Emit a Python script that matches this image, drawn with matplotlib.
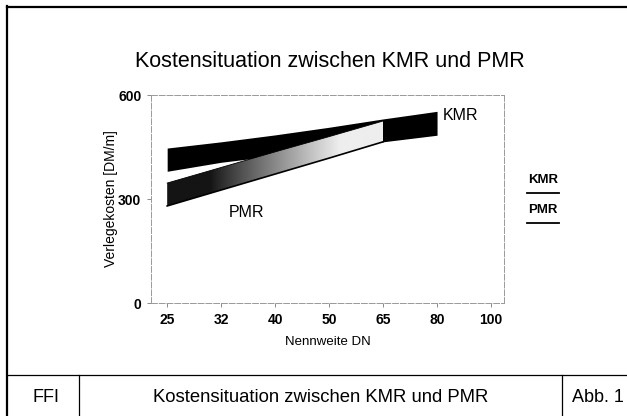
import matplotlib
matplotlib.use("Agg")
import matplotlib.pyplot as plt
import numpy as np
from matplotlib.lines import Line2D
from matplotlib.patches import Polygon

plt.rcParams['font.family'] = ['Liberation Sans', 'DejaVu Sans']

# data
nennweite = ['25', '32', '40', '50', '65', '80', '100']
kmr_upper = [447, 465, 485, 507, 531, 553]
kmr_lower = [380, 406, 425, 445, 465, 484]
pmr_upper = [346, 391, 436, 480, 525]
pmr_lower = [280, 326, 372, 418, 465]
y_ticks = [0, 300, 600]

fig = plt.figure(figsize=(6.27, 4.16), dpi=100)
ax = fig.add_axes([0.2408, 0.2716, 0.563, 0.5])

xk = np.arange(len(kmr_upper))
xp = np.arange(len(pmr_upper))

# KMR band (solid black)
ax.fill_between(xk, kmr_lower, kmr_upper, color='black', lw=0, zorder=2)

# PMR band: dark on the left, fading to light on the right
verts = list(zip(xp, pmr_lower)) + list(zip(xp[::-1], pmr_upper[::-1]))
poly = Polygon(verts, closed=True, facecolor='none', edgecolor='none', zorder=3)
ax.add_patch(poly)
t = np.linspace(0, 1, 256)
grad = (0.08 + 0.85 * np.clip((t - 0.2) / 0.6, 0, 1) ** 0.9).reshape(1, -1)
im = ax.imshow(grad, cmap='gray', vmin=0, vmax=1, aspect='auto',
               extent=[xp[0], xp[-1], min(pmr_lower), max(pmr_upper)],
               zorder=3, interpolation='bilinear')
im.set_clip_path(poly)
ax.plot(xp, pmr_lower, color='black', lw=1.2, zorder=4)
ax.plot(xp, pmr_upper, color='black', lw=0.6, zorder=4)

ax.text(5.1, 540, 'KMR', fontsize=11.5, va='center', ha='left')
ax.text(1.15, 262, 'PMR', fontsize=11.5, va='center', ha='left')

ax.set_xlim(-0.3, 6.24)
ax.set_ylim(0, 600)
ax.set_xticks(range(len(nennweite)))
ax.set_xticklabels(nennweite, fontsize=10, fontweight='bold')
ax.set_yticks(y_ticks)
ax.set_yticklabels([str(v) for v in y_ticks], fontsize=10, fontweight='bold')
ax.tick_params(axis='both', length=3, width=0.6, color='#777777', pad=4)
ax.set_xlabel('Nennweite DN', fontsize=9.5, labelpad=7)
ax.set_ylabel('Verlegekosten [DM/m]', fontsize=10, labelpad=0)
for s in ax.spines.values():
    s.set_color('#999999')
    s.set_linewidth(0.7)
    s.set_linestyle((0, (6, 2)))

fig.text(0.526, 0.851, 'Kostensituation zwischen KMR und PMR', fontsize=15.5,
         ha='center', va='center')

# side legend
fig.text(0.866, 0.567, 'KMR', fontsize=9.5, fontweight='bold', ha='center', va='center')
fig.add_artist(Line2D([0.841, 0.892], [0.536, 0.536], color='black', lw=1.3))
fig.text(0.866, 0.495, 'PMR', fontsize=9.5, fontweight='bold', ha='center', va='center')
fig.add_artist(Line2D([0.841, 0.892], [0.464, 0.464], color='black', lw=1.3))

# page frame and footer table
fig.add_artist(Line2D([0.0112, 1.0], [0.984, 0.984], color='black', lw=1.6))
fig.add_artist(Line2D([0.0112, 0.0112], [0.0, 0.986], color='black', lw=1.6))
fig.add_artist(Line2D([0.0112, 1.0], [0.0986, 0.0986], color='black', lw=0.9))
fig.add_artist(Line2D([0.126, 0.126], [0.0, 0.0986], color='black', lw=0.9))
fig.add_artist(Line2D([0.896, 0.896], [0.0, 0.0986], color='black', lw=0.9))
fig.text(0.073, 0.044, 'FFI', fontsize=13, ha='center', va='center')
fig.text(0.511, 0.044, 'Kostensituation zwischen KMR und PMR', fontsize=13.3,
         ha='center', va='center')
fig.text(0.913, 0.044, 'Abb. 1', fontsize=13, ha='left', va='center')

fig.savefig('out.png', dpi=100)
